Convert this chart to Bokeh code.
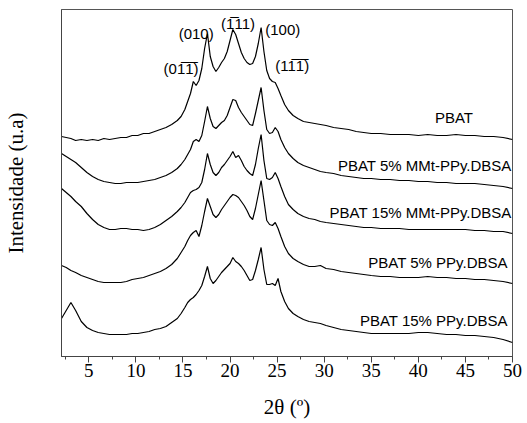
from bokeh.plotting import figure
from bokeh.models import SingleIntervalTicker, FixedTicker, Label
from bokeh.embed import file_html
from bokeh.resources import INLINE

# 2theta grid (degrees)
two_theta = [2.1, 2.6, 3.1, 3.6, 4.2, 4.8, 5.4, 6.0, 6.6, 7.2,
             7.8, 8.4, 9.0, 9.6, 10.2, 10.8, 11.4, 12.0, 12.6, 13.2,
             13.8, 14.4, 14.8, 15.2, 15.5, 15.8, 16.1, 16.4, 16.7, 17.0,
             17.3, 17.6, 17.9, 18.2, 18.5, 18.8, 19.1, 19.4, 19.7, 20.0,
             20.3, 20.6, 20.9, 21.2, 21.5, 21.8, 22.1, 22.4, 22.7, 23.0,
             23.3, 23.6, 23.9, 24.2, 24.5, 24.8, 25.1, 25.4, 25.8, 26.2,
             26.7, 27.2, 27.8, 28.4, 29.0, 29.6, 30.2, 31.0, 31.8, 32.6,
             33.4, 34.2, 35.0, 36.0, 37.0, 38.0, 39.0, 40.0, 41.0, 42.0,
             43.0, 44.0, 45.0, 46.0, 47.0, 48.0, 49.0, 50.0]

pbat = [220, 219, 218, 216, 217, 216, 217, 216, 218, 217,
        218, 219, 219, 221, 221, 223, 223, 225, 227, 229,
        232, 236, 240, 247, 255, 263, 275, 271, 276, 288,
        308, 323, 300, 290, 285, 289, 294, 298, 305, 316,
        327, 322, 313, 304, 298, 294, 292, 293, 300, 313,
        329, 305, 286, 278, 275, 274, 268, 261, 252, 246,
        241, 238, 235, 234, 233, 232, 231, 229, 228, 227,
        225, 224, 223, 223, 222, 222, 222, 221, 222, 221,
        221, 222, 221, 221, 220, 220, 219, 217]

pbat_5_mmt = [203, 200, 197, 194, 189, 184, 180, 177, 175, 174,
              173, 173, 174, 174, 174, 175, 176, 177, 179, 181,
              184, 188, 192, 197, 202, 207, 215, 217, 215, 221,
              235, 250, 238, 230, 228, 231, 234, 236, 241, 249,
              257, 256, 249, 244, 240, 236, 232, 231, 243, 256,
              269, 246, 227, 223, 224, 229, 225, 217, 209, 203,
              198, 194, 191, 189, 187, 185, 184, 183, 181, 180,
              179, 178, 178, 177, 177, 176, 176, 175, 175, 174,
              174, 173, 173, 173, 172, 171, 170, 168]

pbat_15_mmt = [168, 164, 160, 155, 150, 143, 137, 132, 129, 127,
               127, 128, 128, 127, 127, 126, 127, 129, 132, 136,
               140, 145, 149, 154, 159, 164, 166, 167, 169, 174,
               187, 203, 192, 184, 181, 184, 189, 192, 196, 200,
               205, 199, 201, 196, 190, 186, 183, 181, 192, 208,
               222, 196, 178, 177, 179, 184, 178, 170, 160, 152,
               147, 143, 140, 138, 137, 135, 134, 133, 132, 131,
               130, 129, 129, 128, 128, 128, 127, 127, 127, 127,
               127, 127, 127, 126, 126, 125, 125, 123]

pbat_5_ppy = [91, 89, 86, 84, 81, 79, 77, 75, 74, 74,
              74, 74, 75, 77, 78, 79, 81, 83, 85, 88,
              92, 98, 104, 110, 116, 121, 124, 126, 120, 131,
              145, 158, 150, 142, 139, 142, 147, 151, 155, 159,
              162, 161, 159, 155, 151, 146, 140, 137, 148, 162,
              176, 156, 136, 132, 131, 134, 128, 120, 110, 103,
              98, 95, 92, 90, 90, 91, 88, 87, 85, 84,
              83, 82, 81, 80, 80, 79, 79, 79, 80, 79,
              79, 78, 78, 77, 77, 76, 75, 73]

pbat_15_ppy = [38, 46, 54, 46, 35, 29, 26, 24, 23, 22,
               22, 22, 22, 23, 23, 24, 25, 27, 28, 30,
               34, 38, 43, 49, 54, 57, 59, 62, 66, 71,
               80, 90, 78, 73, 76, 80, 84, 87, 90, 93,
               99, 95, 93, 90, 86, 81, 76, 77, 86, 97,
               109, 87, 72, 72, 73, 71, 78, 65, 55, 48,
               43, 40, 37, 35, 34, 33, 31, 29, 27, 26,
               25, 24, 23, 23, 23, 23, 23, 24, 24, 23,
               22, 22, 21, 21, 20, 19, 17, 14]

series = [pbat, pbat_5_mmt, pbat_15_mmt, pbat_5_ppy, pbat_15_ppy]
series_names = ["PBAT", "PBAT 5% MMt-PPy.DBSA", "PBAT 15% MMt-PPy.DBSA",
                "PBAT 5% PPy.DBSA", "PBAT 15% PPy.DBSA"]
x_ticks = [5, 10, 15, 20, 25, 30, 35, 40, 45, 50]
OL = "\u0305"
miller = ["(01" + OL + "1" + OL + ")", "(010)", "(1" + OL + "11)", "(100)",
          "(11" + OL + "1" + OL + ")"]

SERIF = "'Liberation Serif', 'Times New Roman', serif"
SANS = "'Liberation Sans', Arial, sans-serif"

p = figure(width=527, height=423, x_range=(2.1, 50), y_range=(0, 347),
           output_backend="svg", toolbar_location=None,
           min_border_left=61, min_border_right=15, min_border_top=9,
           min_border_bottom=67)
p.background_fill_color = "white"
p.border_fill_color = "white"
p.outline_line_color = "#555555"
p.xgrid.visible = False
p.ygrid.visible = False

for ys in series:
    p.line(two_theta, ys, line_color="black", line_width=1.2)

ax = p.xaxis[0]
ax.ticker = SingleIntervalTicker(interval=5, num_minor_ticks=2)
ax.major_tick_in = 0
ax.major_tick_out = 6
ax.minor_tick_in = 0
ax.minor_tick_out = 3
ax.axis_line_color = "#444444"
ax.major_tick_line_color = "#444444"
ax.minor_tick_line_color = "#444444"
ax.major_label_text_font = SERIF
ax.major_label_text_font_size = "19px"
ax.major_label_text_color = "black"
ax.major_label_standoff = 1
ax.axis_label = "2\u03b8 (\u00ba)"
ax.axis_label_text_font = SERIF
ax.axis_label_text_font_size = "21px"
ax.axis_label_text_font_style = "normal"
ax.axis_label_text_color = "black"
ax.axis_label_standoff = 15

ay = p.yaxis[0]
ay.ticker = FixedTicker(ticks=[])
ay.major_tick_out = 0
ay.major_tick_in = 0
ay.minor_tick_out = 0
ay.minor_tick_in = 0
ay.major_label_text_font_size = "0px"
ay.axis_line_color = "#444444"
ay.axis_label = "Intensidade (u.a)"
ay.axis_label_text_font = SERIF
ay.axis_label_text_font_size = "21px"
ay.axis_label_text_font_style = "normal"
ay.axis_label_text_color = "black"
ay.axis_label_standoff = 34

# sample names
name_pos = [(45.8, 239), (49.9, 191), (49.9, 144), (49.5, 94), (49.5, 36)]
for name, (lx, ly) in zip(series_names, name_pos):
    p.add_layout(Label(x=lx, y=ly, text=name, text_font=SANS,
                       text_font_size="15px", text_align="right",
                       text_baseline="middle", text_color="black"))

# Miller indices
miller_pos = [(14.8, 288), (16.4, 323), (20.85, 333), (25.6, 327), (26.6, 291)]
for t, (lx, ly) in zip(miller, miller_pos):
    p.add_layout(Label(x=lx, y=ly, text=t, text_font=SANS,
                       text_font_size="15px", text_align="center",
                       text_baseline="middle", text_color="black"))

open("out.html", "w").write(file_html(p, INLINE))
